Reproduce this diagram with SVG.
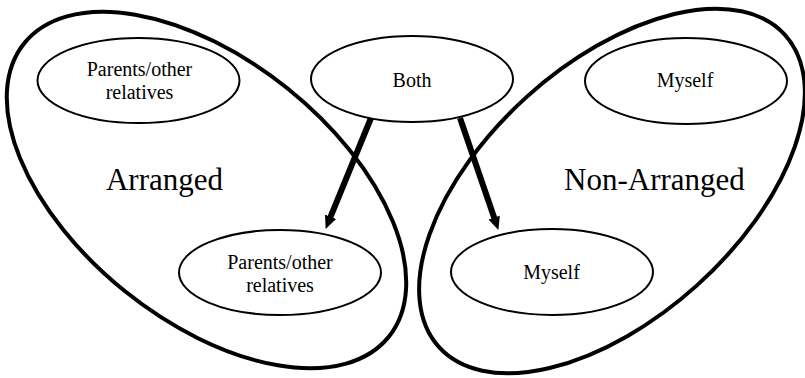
<svg xmlns="http://www.w3.org/2000/svg" width="805" height="378" viewBox="0 0 805 378">
<style>
.outer{fill:none;stroke:#000;stroke-width:4}
.node{fill:#fff;stroke:#000;stroke-width:2}
.t{font-family:'Liberation Serif','Times New Roman',serif;font-size:20px;fill:#000;text-anchor:middle}
.big{font-family:'Liberation Serif','Times New Roman',serif;font-size:31px;fill:#000;text-anchor:middle}
.arrow{stroke:#000;stroke-width:6;fill:none}
</style>
<defs>
<marker id="head" markerUnits="userSpaceOnUse" markerWidth="14" markerHeight="14" refX="2" refY="7" orient="auto">
<path d="M0,1 L13,7 L0,13 z" fill="#000"/>
</marker>
</defs>
<rect width="805" height="378" fill="#fff"/>
<g id="arranged">
<ellipse class="outer" cx="206.5" cy="190" rx="234" ry="130" transform="rotate(38.8 206.5 190)"/>
<text class="big" x="164.5" y="190">Arranged</text>
</g>
<g id="non-arranged">
<ellipse class="outer" cx="612" cy="191" rx="233" ry="127" transform="rotate(-42 612 191)"/>
<text class="big" x="654.5" y="190">Non-Arranged</text>
</g>
<g id="parents-top">
<ellipse class="node" cx="138.5" cy="80.5" rx="101" ry="42.5"/>
<text class="t" x="139.5" y="76">Parents/other</text>
<text class="t" x="139.5" y="99">relatives</text>
</g>
<g id="both">
<ellipse class="node" cx="412" cy="79" rx="101" ry="43"/>
<text class="t" x="412" y="87">Both</text>
</g>
<g id="myself-top">
<ellipse class="node" cx="686" cy="81" rx="101" ry="43"/>
<text class="t" x="685" y="87">Myself</text>
</g>
<g id="parents-bottom">
<ellipse class="node" cx="280" cy="272.5" rx="101" ry="42.5"/>
<text class="t" x="280" y="269">Parents/other</text>
<text class="t" x="280" y="292">relatives</text>
</g>
<g id="myself-bottom">
<ellipse class="node" cx="552" cy="272" rx="101" ry="43"/>
<text class="t" x="551.5" y="279">Myself</text>
</g>
<g id="connectors">
<line class="arrow" x1="371" y1="118" x2="329.8" y2="218.7" marker-end="url(#head)"/>
<line class="arrow" x1="460" y1="118" x2="494.8" y2="219.5" marker-end="url(#head)"/>
</g>
</svg>
